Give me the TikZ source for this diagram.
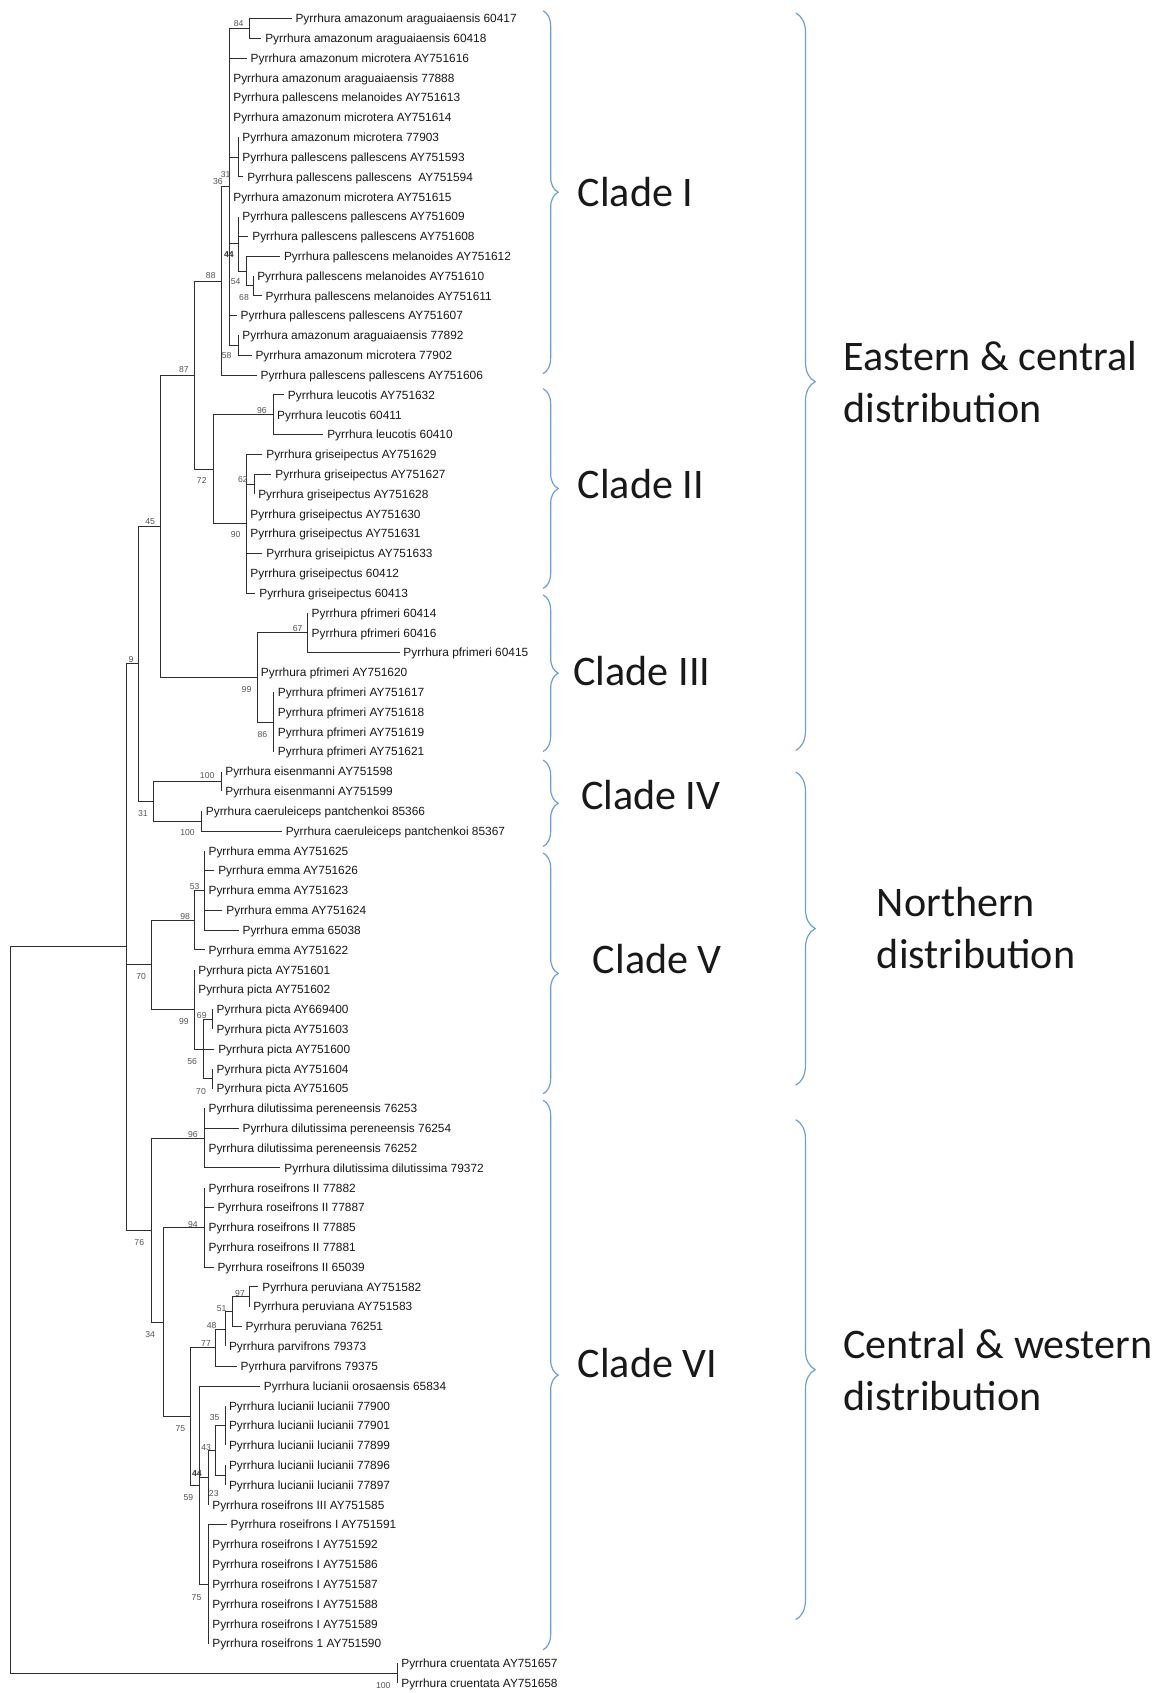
\documentclass[tikz,border=0pt]{standalone}
\usepackage{fontspec}
\setmainfont{Liberation Sans}
\newfontfamily\cladefont{Carlito}
\usetikzlibrary{decorations.pathreplacing}
\definecolor{treeline}{HTML}{2E2E2E}
\definecolor{bsgray}{HTML}{555555}
\definecolor{braceblue}{HTML}{6A9FD6}
\begin{document}
\begin{tikzpicture}[x=1pt,y=-1pt]
\tikzset{
 br/.style={draw=treeline, line width=0.85pt},
 leaf/.style={anchor=west, inner xsep=3.5pt, inner ysep=0pt, font=\fontsize{11}{11}\selectfont, text height=7.9pt, text depth=0pt, text=black!90},
 bs/.style={font=\fontsize{8}{8}\selectfont, text=bsgray, inner sep=0pt},
 bsb/.style={font=\bfseries\fontsize{8}{8}\selectfont, text=black!80, inner sep=0pt},
 cbrace/.style={draw=braceblue, line width=1.1pt, decorate, decoration={brace, amplitude=14pt}},
 bbrace/.style={draw=braceblue, line width=1.1pt, decorate, decoration={brace, amplitude=18pt}},
 clab/.style={font=\cladefont\fontsize{39}{48}\selectfont, anchor=base west, inner sep=0pt, text=black!90},
}
\fill[white] (0,0) rectangle (1080,1568);
\useasboundingbox (0,0) rectangle (1080,1568);

\begin{scope}[y=-18.357pt, yshift=1.357pt]
% ---------- internal nodes ----------
\coordinate (R) at (10,66.17);
\coordinate (A) at (117.4,47.85);
\coordinate (B9) at (128.4,33.5625);
\coordinate (N45) at (148.9,26.625);
\coordinate (N87) at (180.3,19);
\coordinate (N88) at (205.3,14.25);
\coordinate (N36) at (212.4,9.5);
\coordinate (N84) at (231,1.5);
\coordinate (N31b) at (220.8,8);
\coordinate (N44) at (220.8,12.375);
\coordinate (N54) at (227.9,13.75);
\coordinate (N68) at (234.6,14.5);
\coordinate (N58) at (220.8,17.5);
\coordinate (N72) at (197.5,23.75);
\coordinate (N96) at (253,21);
\coordinate (N90) at (228.3,26.5);
\coordinate (N62) at (235.5,24.5);
\coordinate (N99c) at (238,34.25);
\coordinate (N67) at (285,32);
\coordinate (N86) at (253.7,36.5);
\coordinate (N31) at (142,40.5);
\coordinate (N100a) at (205,39.5);
\coordinate (N100b) at (187,41.5);
\coordinate (N70) at (140.6,48.75);
\coordinate (N98) at (180,46.5);
\coordinate (N53) at (189.5,45);
\coordinate (N99) at (180,51);
\coordinate (N56) at (188,53);
\coordinate (N69) at (197,51.5);
\coordinate (N70b) at (197,54.5);
\coordinate (C76) at (140.6,62.13);
\coordinate (N96b) at (189.5,57.5);
\coordinate (N34) at (151.5,66.77);
\coordinate (N94) at (189.5,62);
\coordinate (N75) at (176,71.53);
\coordinate (N77) at (200,68.06);
\coordinate (N48) at (208.4,67.125);
\coordinate (N51) at (215.5,66.25);
\coordinate (N97) at (231,65.5);
\coordinate (N59) at (184.6,75);
\coordinate (N44b) at (193,74.625);
\coordinate (N43) at (200,73.25);
\coordinate (N35) at (208.4,72);
\coordinate (N23) at (208.4,74.5);
\coordinate (N75b) at (193,80);
\coordinate (Cru) at (368,84.5);

% ---------- leaves ----------
\node[leaf] (l1) at (270,1) {Pyrrhura amazonum araguaiaensis 60417};
\node[leaf] (l2) at (242,2) {Pyrrhura amazonum araguaiaensis 60418};
\node[leaf] (l3) at (228.5,3) {Pyrrhura amazonum microtera AY751616};
\node[leaf] (l4) at (212.4,4) {Pyrrhura amazonum araguaiaensis 77888};
\node[leaf] (l5) at (212.4,5) {Pyrrhura pallescens melanoides AY751613};
\node[leaf] (l6) at (212.4,6) {Pyrrhura amazonum microtera AY751614};
\node[leaf] (l7) at (220.8,7) {Pyrrhura amazonum microtera 77903};
\node[leaf] (l8) at (220.8,8) {Pyrrhura pallescens pallescens AY751593};
\node[leaf] (l9) at (225.4,9) {Pyrrhura pallescens pallescens\ \ AY751594};
\node[leaf] (l10) at (212.4,10) {Pyrrhura amazonum microtera AY751615};
\node[leaf] (l11) at (220.8,11) {Pyrrhura pallescens pallescens AY751609};
\node[leaf] (l12) at (230,12) {Pyrrhura pallescens pallescens AY751608};
\node[leaf] (l13) at (259.4,13) {Pyrrhura pallescens melanoides AY751612};
\node[leaf] (l14) at (234.6,14) {Pyrrhura pallescens melanoides AY751610};
\node[leaf] (l15) at (242.4,15) {Pyrrhura pallescens melanoides AY751611};
\node[leaf] (l16) at (219.2,16) {Pyrrhura pallescens pallescens AY751607};
\node[leaf] (l17) at (220.8,17) {Pyrrhura amazonum araguaiaensis 77892};
\node[leaf] (l18) at (233,18) {Pyrrhura amazonum microtera 77902};
\node[leaf] (l19) at (237.7,19) {Pyrrhura pallescens pallescens AY751606};
\node[leaf] (l20) at (263,20) {Pyrrhura leucotis AY751632};
\node[leaf] (l21) at (253,21) {Pyrrhura leucotis 60411};
\node[leaf] (l22) at (299.4,22) {Pyrrhura leucotis 60410};
\node[leaf] (l23) at (243,23) {Pyrrhura griseipectus AY751629};
\node[leaf] (l24) at (251.4,24) {Pyrrhura griseipectus AY751627};
\node[leaf] (l25) at (235.5,25) {Pyrrhura griseipectus AY751628};
\node[leaf] (l26) at (228.3,26) {Pyrrhura griseipectus AY751630};
\node[leaf] (l27) at (228.3,27) {Pyrrhura griseipectus AY751631};
\node[leaf] (l28) at (243,28) {Pyrrhura griseipictus AY751633};
\node[leaf] (l29) at (228.3,29) {Pyrrhura griseipectus 60412};
\node[leaf] (l30) at (236.5,30) {Pyrrhura griseipectus 60413};
\node[leaf] (l31) at (285,31) {Pyrrhura pfrimeri 60414};
\node[leaf] (l32) at (285,32) {Pyrrhura pfrimeri 60416};
\node[leaf] (l33) at (370,33) {Pyrrhura pfrimeri 60415};
\node[leaf] (l34) at (238,34) {Pyrrhura pfrimeri AY751620};
\node[leaf] (l35) at (253.7,35) {Pyrrhura pfrimeri AY751617};
\node[leaf] (l36) at (253.7,36) {Pyrrhura pfrimeri AY751618};
\node[leaf] (l37) at (253.7,37) {Pyrrhura pfrimeri AY751619};
\node[leaf] (l38) at (253.7,38) {Pyrrhura pfrimeri AY751621};
\node[leaf] (l39) at (205,39) {Pyrrhura eisenmanni AY751598};
\node[leaf] (l40) at (205,40) {Pyrrhura eisenmanni AY751599};
\node[leaf] (l41) at (187,41) {Pyrrhura caeruleiceps pantchenkoi 85366};
\node[leaf] (l42) at (261,42) {Pyrrhura caeruleiceps pantchenkoi 85367};
\node[leaf] (l43) at (189.5,43) {Pyrrhura emma AY751625};
\node[leaf] (l44) at (198.5,44) {Pyrrhura emma AY751626};
\node[leaf] (l45) at (189.5,45) {Pyrrhura emma AY751623};
\node[leaf] (l46) at (206,46) {Pyrrhura emma AY751624};
\node[leaf] (l47) at (221,47) {Pyrrhura emma 65038};
\node[leaf] (l48) at (189.5,48) {Pyrrhura emma AY751622};
\node[leaf] (l49) at (180,49) {Pyrrhura picta AY751601};
\node[leaf] (l50) at (180,50) {Pyrrhura picta AY751602};
\node[leaf] (l51) at (197,51) {Pyrrhura picta AY669400};
\node[leaf] (l52) at (197,52) {Pyrrhura picta AY751603};
\node[leaf] (l53) at (198.5,53) {Pyrrhura picta AY751600};
\node[leaf] (l54) at (197,54) {Pyrrhura picta AY751604};
\node[leaf] (l55) at (197,55) {Pyrrhura picta AY751605};
\node[leaf] (l56) at (189.5,56) {Pyrrhura dilutissima pereneensis 76253};
\node[leaf] (l57) at (221,57) {Pyrrhura dilutissima pereneensis 76254};
\node[leaf] (l58) at (189.5,58) {Pyrrhura dilutissima pereneensis 76252};
\node[leaf] (l59) at (259.7,59) {Pyrrhura dilutissima dilutissima 79372};
\node[leaf] (l60) at (189.5,60) {Pyrrhura roseifrons II 77882};
\node[leaf] (l61) at (197.8,61) {Pyrrhura roseifrons II 77887};
\node[leaf] (l62) at (189.5,62) {Pyrrhura roseifrons II 77885};
\node[leaf] (l63) at (189.5,63) {Pyrrhura roseifrons II 77881};
\node[leaf] (l64) at (197.8,64) {Pyrrhura roseifrons II 65039};
\node[leaf] (l65) at (239.3,65) {Pyrrhura peruviana AY751582};
\node[leaf] (l66) at (231,66) {Pyrrhura peruviana AY751583};
\node[leaf] (l67) at (223.9,67) {Pyrrhura peruviana 76251};
\node[leaf] (l68) at (208.4,68) {Pyrrhura parvifrons 79373};
\node[leaf] (l69) at (219.2,69) {Pyrrhura parvifrons 79375};
\node[leaf] (l70) at (240.8,70) {Pyrrhura lucianii orosaensis 65834};
\node[leaf] (l71) at (208.4,71) {Pyrrhura lucianii lucianii 77900};
\node[leaf] (l72) at (208.4,72) {Pyrrhura lucianii lucianii 77901};
\node[leaf] (l73) at (208.4,73) {Pyrrhura lucianii lucianii 77899};
\node[leaf] (l74) at (208.4,74) {Pyrrhura lucianii lucianii 77896};
\node[leaf] (l75) at (208.4,75) {Pyrrhura lucianii lucianii 77897};
\node[leaf] (l76) at (193,76) {Pyrrhura roseifrons III AY751585};
\node[leaf] (l77) at (210,77) {Pyrrhura roseifrons I AY751591};
\node[leaf] (l78) at (193,78) {Pyrrhura roseifrons I AY751592};
\node[leaf] (l79) at (193,79) {Pyrrhura roseifrons I AY751586};
\node[leaf] (l80) at (193,80) {Pyrrhura roseifrons I AY751587};
\node[leaf] (l81) at (193,81) {Pyrrhura roseifrons I AY751588};
\node[leaf] (l82) at (193,82) {Pyrrhura roseifrons I AY751589};
\node[leaf] (l83) at (193,83) {Pyrrhura roseifrons 1 AY751590};
\node[leaf] (l84) at (368,84) {Pyrrhura cruentata AY751657};
\node[leaf] (l85) at (368,85) {Pyrrhura cruentata AY751658};

% ---------- branches ----------
\foreach \p/\c in {R/A, R/Cru, A/B9, A/N70, A/C76, B9/N45, B9/N31,
  N45/N87, N45/N99c, N87/N88, N87/N72, N88/N36, N88/l19.west,
  N36/N84, N36/l3.west, N36/l4.west, N36/l5.west, N36/l6.west, N36/N31b,
  N36/l10.west, N36/N44, N36/l16.west, N36/N58,
  N84/l1.west, N84/l2.west, N31b/l7.west, N31b/l8.west, N31b/l9.west,
  N44/l11.west, N44/l12.west, N44/N54, N54/l13.west, N54/N68,
  N68/l14.west, N68/l15.west, N58/l17.west, N58/l18.west,
  N72/N96, N72/N90, N96/l20.west, N96/l21.west, N96/l22.west,
  N90/l23.west, N90/N62, N90/l26.west, N90/l27.west, N90/l28.west, N90/l29.west, N90/l30.west,
  N62/l24.west, N62/l25.west,
  N99c/N67, N99c/l34.west, N99c/N86, N67/l31.west, N67/l32.west, N67/l33.west,
  N86/l35.west, N86/l36.west, N86/l37.west, N86/l38.west,
  N31/N100a, N31/N100b, N100a/l39.west, N100a/l40.west, N100b/l41.west, N100b/l42.west,
  N70/N98, N70/N99, N98/N53, N98/l48.west,
  N53/l43.west, N53/l44.west, N53/l45.west, N53/l46.west, N53/l47.west,
  N99/l49.west, N99/l50.west, N99/N56, N56/N69, N56/l53.west, N56/N70b,
  N69/l51.west, N69/l52.west, N70b/l54.west, N70b/l55.west,
  C76/N96b, C76/N34, N96b/l56.west, N96b/l57.west, N96b/l58.west, N96b/l59.west,
  N34/N94, N34/N75, N94/l60.west, N94/l61.west, N94/l62.west, N94/l63.west, N94/l64.west,
  N75/N77, N75/N59, N77/N48, N77/l69.west, N48/N51, N48/l68.west, N51/N97, N51/l67.west,
  N97/l65.west, N97/l66.west,
  N59/l70.west, N59/N44b, N59/N75b, N44b/N43, N44b/l76.west, N43/N35, N43/N23,
  N35/l71.west, N35/l72.west, N35/l73.west, N23/l74.west, N23/l75.west,
  N75b/l77.west, N75b/l78.west, N75b/l79.west, N75b/l80.west, N75b/l81.west, N75b/l82.west, N75b/l83.west,
  Cru/l84.west, Cru/l85.west}
  \draw[br] (\p) |- (\c);
\end{scope}

% ---------- bootstrap values ----------
\foreach \x/\y/\t [count=\i] in {221/21.6/84, 209/162/31, 201.8/168.3/36, 195.2/255.6/88,
  218.3/261/54, 226/275.4/68, 210/329.7/58, 170.4/342.7/87, 242.5/379.8/96, 186.9/444.6/72,
  225/444/62, 218.3/495.5/90, 139/483.2/45, 275.6/582/67, 121.4/610.7/9, 228.3/638.5/99,
  243.1/679.9/86, 191.9/717.9/100, 132.3/753.4/31, 173.7/771.3/100, 180.3/820.7/53,
  171.4/849/98, 130.7/904.7/70, 186.9/940.2/69, 170.4/946.4/99, 178/983.4/56, 186.2/1010.6/70,
  178.6/1050.7/96, 178.6/1133.8/94, 129/1151/76, 222.3/1198/97, 205.3/1211.8/51, 196/1228/48,
  190.8/1244.3/77, 139/1236/34, 167/1323/75, 198.8/1313/35, 191/1340.5/43, 198/1383/23,
  174.4/1387/59, 182/1479.6/75, 355/1561/100}
  \node[bs] (bs\i) at (\x,\y) {\t};
\node[bsb] (bsA) at (212,236) {44};
\node[bsb] (bsB) at (182.4,1365) {44};

% ---------- clade braces ----------
\draw[cbrace] (503,10) -- (503,346);
\draw[cbrace] (503,360) -- (503,545);
\draw[cbrace] (503,551) -- (503,696);
\draw[cbrace] (503,704) -- (503,784);
\draw[cbrace] (503,790) -- (503,1013);
\draw[cbrace] (503,1019) -- (503,1528);
\draw[bbrace] (737,12) -- (737,695);
\draw[bbrace] (737,715) -- (737,1005);
\draw[bbrace] (737,1037) -- (737,1500);

\node[clab] (cI) at (535,191) {Clade I};
\node[clab] (cII) at (535,462) {Clade II};
\node[clab] (cIII) at (531,635) {Clade III};
\node[clab] (cIV) at (538,750) {Clade IV};
\node[clab] (cV) at (549,902) {Clade V};
\node[clab] (cVI) at (535,1276) {Clade VI};
\node[clab] (dEC1) at (781,343) {Eastern \& central};
\node[clab] (dEC2) at (781,391) {distribution};
\node[clab] (dN1) at (812,849) {Northern};
\node[clab] (dN2) at (812,897) {distribution};
\node[clab] (dCW1) at (781,1258) {Central \& western};
\node[clab] (dCW2) at (781,1306) {distribution};
\end{tikzpicture}
\end{document}
